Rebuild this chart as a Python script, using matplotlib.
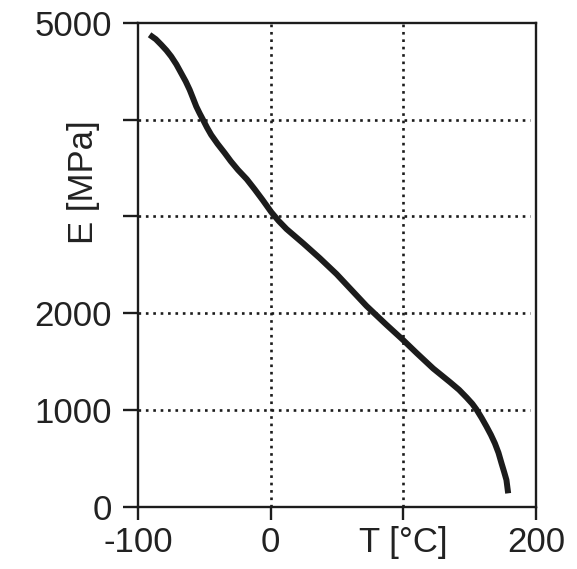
import matplotlib
matplotlib.use("Agg")
import matplotlib.pyplot as plt

# Young's modulus versus temperature
temperature_c = [-91.2, -86.5, -82.4, -78.5, -74.9, -71, -67.4, -64, -61, -58.5,
                 -56, -53.5, -51, -48, -44.8, -40, -34.7, -30, -24.6, -18, -12,
                 -6, 0.5, 6, 12, 24.6, 37, 49.7, 61, 72.3, 87, 100, 110, 122.5,
                 135.1, 142, 147.7, 152, 155.2, 159, 162.7, 166, 169, 171.7,
                 174, 176, 177.7, 179]
modulus_mpa = [4876, 4830, 4773, 4715, 4652, 4570, 4480, 4395, 4308, 4222,
               4135, 4065, 4000, 3920, 3843, 3750, 3657, 3570, 3481, 3385,
               3280, 3170, 3045, 2955, 2870, 2722, 2570, 2405, 2240, 2075,
               1885, 1722, 1590, 1430, 1290, 1210, 1130, 1065, 1005, 920, 830,
               745, 657, 560, 451, 360, 279, 141]

x_ticks = [-100, 0, 100, 200]
x_tick_labels = ["-100", "0", "T [°C]", "200"]
y_ticks = [0, 1000, 2000, 3000, 4000, 5000]
y_tick_labels = ["0", "1000", "2000", "", "", "5000"]
y_label = "E [MPa]"

plt.rcParams["font.family"] = ["Liberation Sans", "DejaVu Sans"]

fig = plt.figure(figsize=(5.77, 5.69), dpi=100)
ax = fig.add_axes([0.239, 0.109, 0.690, 0.851])

ink = "#1c1c1c"
ax.plot(temperature_c, modulus_mpa, color=ink, lw=4.3, solid_capstyle="butt",
        solid_joinstyle="round", zorder=3)

ax.set_xlim(-100, 200)
ax.set_ylim(0, 5000)
ax.set_xticks(x_ticks)
ax.set_xticklabels(x_tick_labels)
ax.set_yticks(y_ticks)
ax.set_yticklabels(y_tick_labels)

# dotted grid at the interior ticks only
for xv in x_ticks[1:-1]:
    ax.axvline(xv, color=ink, lw=1.9, dashes=(1.0, 1.8),
               dash_capstyle="butt", zorder=1)
for yv in y_ticks[1:-1]:
    ax.axhline(yv, color=ink, lw=1.9, dashes=(1.0, 1.8),
               dash_capstyle="butt", zorder=1, xmax=0.985)

for s in ax.spines.values():
    s.set_linewidth(1.7)
    s.set_color(ink)

ax.tick_params(axis="both", direction="out", width=1.7, color=ink,
               labelsize=25, labelcolor="#222222")
ax.tick_params(axis="y", length=10.5, pad=8)
ax.tick_params(axis="x", length=9.5, pad=4)

ax.text(-141, 3350, y_label, rotation=90, ha="center", va="center",
        fontsize=25, color="#222222", clip_on=False)

fig.savefig("out.png", dpi=100, facecolor="white")
